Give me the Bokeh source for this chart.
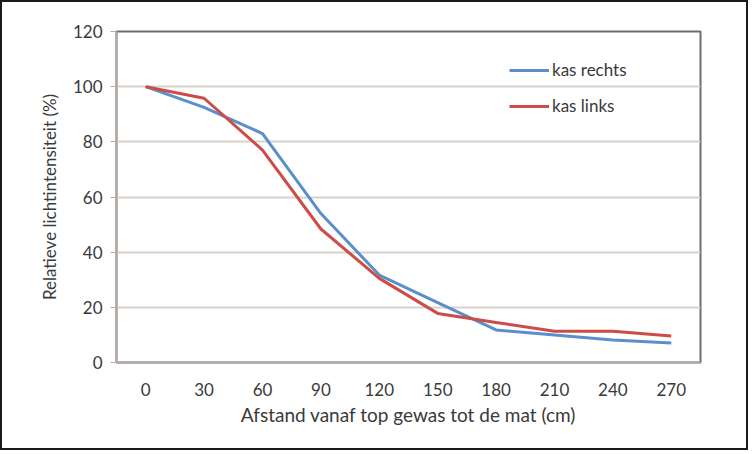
from bokeh.plotting import figure
from bokeh.models import FactorRange, Range1d, Legend, LegendItem, FixedTicker
from bokeh.embed import file_html
from bokeh.resources import INLINE

categories = ["0", "30", "60", "90", "120", "150", "180", "210", "240", "270"]
kas_rechts = [100, 92.5, 83, 54, 31.7, 21.7, 11.8, 10, 8.2, 7.1]
kas_links = [100, 95.8, 77, 48.4, 30.5, 17.8, 14.5, 11.3, 11.3, 9.6]
y_ticks = [0, 20, 40, 60, 80, 100, 120]

FONT = "Lato"
TXT = "#3a3a3a"

p = figure(width=748, height=450, x_range=FactorRange(*categories),
           y_range=Range1d(0, 120), output_backend="svg", toolbar_location=None,
           min_border_left=114, min_border_right=50, min_border_top=29,
           min_border_bottom=90)
p.styles = {"border": "2px solid #1a1a1a"}
p.background_fill_color = "white"
p.border_fill_color = "white"
p.outline_line_color = "#6e6e6e"
p.outline_line_width = 2

p.xgrid.grid_line_color = None
p.ygrid.grid_line_color = "#d8d2cd"
p.ygrid.grid_line_width = 2
p.yaxis.ticker = FixedTicker(ticks=y_ticks)

for ax in (p.xaxis[0], p.yaxis[0]):
    ax.axis_line_color = "#b5aca6"
    ax.axis_line_width = 2
    ax.major_label_text_font = FONT
    ax.major_label_text_font_size = "17px"
    ax.major_label_text_color = TXT
    ax.axis_label_text_font = FONT
    ax.axis_label_text_font_style = "normal"
    ax.axis_label_text_color = TXT
    ax.minor_tick_line_color = None

p.xaxis.axis_label_text_font_size = "19px"
p.yaxis.axis_label_text_font_size = "17px"
p.yaxis.major_tick_line_color = "#b5aca6"
p.yaxis.major_tick_out = 6
p.yaxis.major_tick_in = 0
p.yaxis.major_label_standoff = 8
p.xaxis.major_tick_line_color = None
p.xaxis.major_label_standoff = 14
p.xaxis.axis_label_standoff = 4
p.yaxis.axis_label_standoff = 10
p.yaxis.axis_label = "Relatieve lichtintensiteit (%)"
p.xaxis.axis_label = "Afstand vanaf top gewas tot de mat (cm)"

r1 = p.line(categories, kas_rechts, line_color="#5b8fcb", line_width=3)
r2 = p.line(categories, kas_links, line_color="#cc4c47", line_width=3)

legend = Legend(items=[LegendItem(label="kas rechts", renderers=[r1]),
                       LegendItem(label="kas links", renderers=[r2])],
                location=(393, 246), border_line_color=None,
                background_fill_alpha=0, label_text_font=FONT,
                label_text_font_size="17px", label_text_color=TXT,
                glyph_width=40, spacing=15, label_standoff=3)
p.add_layout(legend)

open("out.html", "w").write(file_html(p, INLINE))
